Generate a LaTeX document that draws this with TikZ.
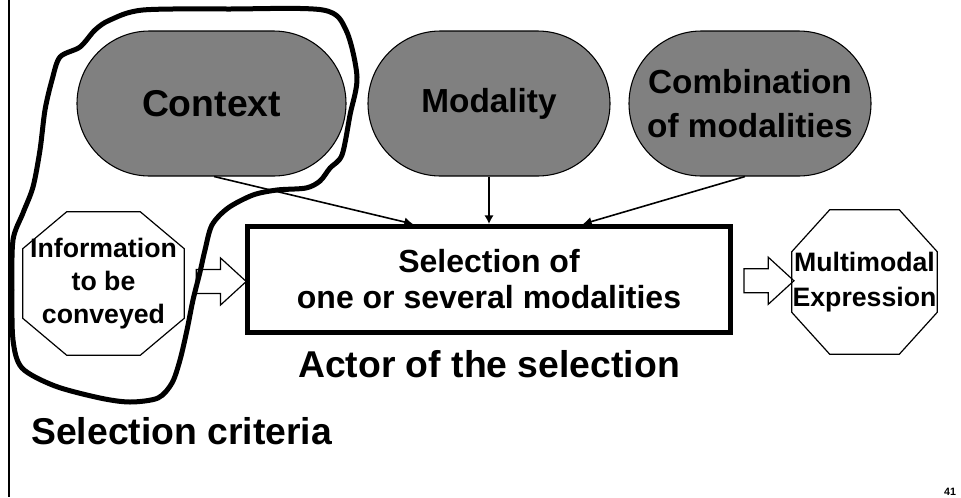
\documentclass[tikz,border=0pt]{standalone}
\usepackage{fontspec}
\setmainfont{Liberation Sans}
\usetikzlibrary{shapes.misc,shapes.arrows,calc,arrows.meta}
\tikzset{>={Latex[length=6.5pt,width=7pt]}}
\definecolor{pillgray}{RGB}{128,128,128}
\tikzset{
  pill/.style={rounded rectangle, draw, line width=0.8pt, fill=pillgray,
    minimum height=108.75pt, inner sep=0pt, align=center},
  octa/.style={inner sep=0pt, align=center, font=\bfseries\fontsize{20}{25}\selectfont},
  selbox/.style={draw, line width=3.75pt, minimum width=362.25pt, minimum height=79.5pt,
    align=center, font=\bfseries\fontsize{24}{27}\selectfont},
  blockarrow/.style={single arrow, draw, line width=0.9pt, inner xsep=8pt, inner ysep=8.6pt,
    single arrow head extend=8.6pt, single arrow tip angle=85, minimum height=37.5pt},
  lbl/.style={inner sep=0pt, font=\bfseries\fontsize{28}{33}\selectfont},
  link/.style={->, line width=1.2pt}
}

\begin{document}
\begin{tikzpicture}[x=0.75pt,y=-0.75pt]
  \useasboundingbox (0,0) rectangle (961,497);

  % Frame line on the left
  \draw[line width=1.5pt] (9,0) -- (9,497);

  % Criteria, modality and combination
  \node[pill, minimum width=201.75pt, font=\bfseries\fontsize{28}{33}\selectfont] (ctx) at (211.5,103.5) {Context};
  \node[pill, minimum width=181.5pt, font=\bfseries\fontsize{25}{30}\selectfont] (mod) at (489,103.5) {Modality};
  \node[pill, minimum width=181.5pt, font=\bfseries\fontsize{25}{33}\selectfont] (comb) at (750,103.5) {Combination\\of modalities};

  % The selection box
  \node[selbox] (sel) at (489,279.5) {Selection of\\one or several modalities};
  \node[lbl] (actor) at (489,364) {Actor of the selection};

  % Input and output octagons
  \node[octa, minimum width=120.75pt, minimum height=107.25pt] (info) at (103.5,283.5) {Information\\to be\\conveyed};
  \draw[line width=0.9pt] ($(info.north west)+(44,0)$) -- ($(info.north east)+(-44,0)$)
    -- ($(info.north east)+(0,37)$) -- ($(info.south east)+(0,-37)$)
    -- ($(info.south east)+(-44,0)$) -- ($(info.south west)+(44,0)$)
    -- ($(info.south west)+(0,-37)$) -- ($(info.north west)+(0,37)$) -- cycle;
  \node[octa, minimum width=108.75pt, minimum height=108pt, font=\bfseries\fontsize{20}{26}\selectfont] (mme) at (864.5,282) {Multimodal\\Expression};
  \draw[line width=0.9pt] ($(mme.north west)+(38,0)$) -- ($(mme.north east)+(-38,0)$)
    -- ($(mme.north east)+(0,42)$) -- ($(mme.south east)+(0,-42)$)
    -- ($(mme.south east)+(-38,0)$) -- ($(mme.south west)+(38,0)$)
    -- ($(mme.south west)+(0,-42)$) -- ($(mme.north west)+(0,42)$) -- cycle;

  % Block arrows in and out
  \node[blockarrow] (inarr) at ($(info.east)!0.5!(sel.west)$) {};
  \node[blockarrow] (outarr) at ($(sel.east)!0.5!(mme.west)$) {};

  % Arrows into the selection
  \draw[link] ([xshift=2pt]ctx.south) -- ([xshift=-57pt]sel.north);
  \draw[link] (mod.south) -- (sel.north);
  \draw[link] ([xshift=-3.75pt]comb.south) -- ([xshift=70.5pt]sel.north);

  % Hand drawn loop round the criteria
  \draw[line width=3.75pt, line join=round] plot[smooth cycle, tension=0.5] coordinates {
    (143,10) (230,9) (323,10) (346,30) (357,77) (350,115) (342,155) (330,168)
    (320,181) (306,188) (277,190) (253,195) (228,208) (212,225) (205,250) (200,272)
    (193,300) (187,330) (180,360) (172,383) (158,398) (130,402) (100,398) (55,386)
    (22,368) (13,340) (12,290) (13,240) (23,213) (33,187) (40,150) (45,110)
    (52,80) (60,57) (80,47) (95,30) (110,20)};
  \node[lbl, anchor=west] (crit) at (31,431.5) {Selection criteria};

  % Page number
  \node[inner sep=0pt, font=\bfseries\fontsize{8}{9}\selectfont] (page) at (950,492) {41};
\end{tikzpicture}
\end{document}
